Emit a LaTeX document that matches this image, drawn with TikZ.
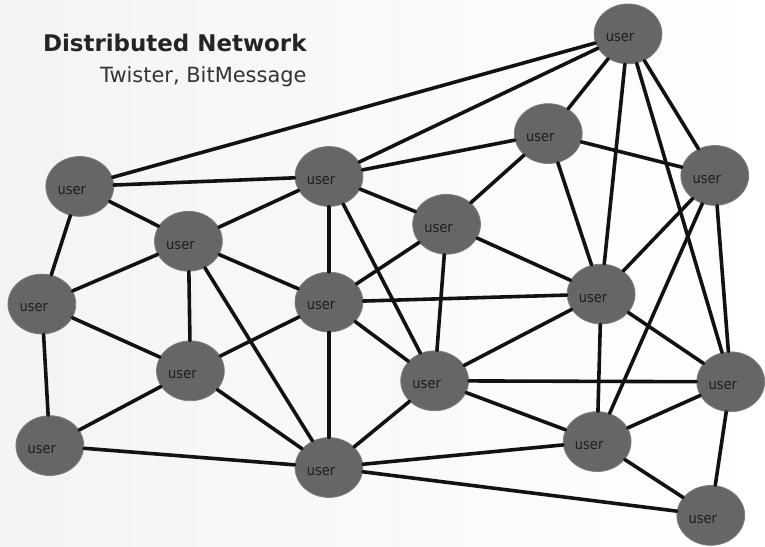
\documentclass[tikz,border=0pt]{standalone}
\usepackage{fontspec}
\setmainfont{DejaVu Sans}
\newfontfamily\userfont[FakeStretch=0.9]{DejaVu Sans}
\usetikzlibrary{shapes.geometric}
\definecolor{peergray}{HTML}{666666}
\definecolor{usertext}{HTML}{1E1E1E}
\begin{document}
\begin{tikzpicture}[x=1pt, y=-1pt, line join=round, line cap=round,
	peer/.style={ellipse, fill=peergray, draw=peergray!85!white, line width=0.8pt,
		minimum width=68pt, minimum height=60pt, inner sep=0pt,
		label={[font=\userfont\fontsize{14.5}{14.5}\selectfont, text=usertext,
			xshift=-8pt, yshift=-4pt]center:user}},
	link/.style={line width=3.6pt, draw=black!93}]
	\shade[left color=gray!9, right color=white] (0,0) rectangle (765,548);
	\node[anchor=base east, font=\bfseries\fontsize{23}{23}\selectfont, text=black!86]
		(title) at (311,52) {Distributed Network};
	\node[anchor=base east, font=\fontsize{21}{21}\selectfont, text=black!80]
		(sub) at (311,83) {Twister, BitMessage};
	\foreach \n/\x/\y in {T/630/34, A/80/187, B/330/177, C/550/134, D/717/176,
		E/189/242, F/448/225, G/42/305, H/330/303, I/603/295, J/191/372,
		K/436/382, L/733/383, M/50/447, N/330/469, P/599/443, Q/713/517}
		\node[peer] (\n) at (\x,\y) {};
	\foreach \a/\b in {T/A, T/B, T/C, T/D, T/I, T/L, A/B, A/E, A/G,
		B/C, B/E, B/F, B/H, B/K, C/D, C/F, C/I, D/I, D/P, D/L,
		E/G, E/J, E/H, E/N, F/H, F/I, F/K, G/J, G/M,
		H/I, H/J, H/K, H/N, I/K, I/P, I/L, J/M, J/N,
		K/L, K/P, K/N, L/P, L/Q, M/N, N/P, N/Q, P/Q}
		\draw[link] (\a) -- (\b);
\end{tikzpicture}
\end{document}
